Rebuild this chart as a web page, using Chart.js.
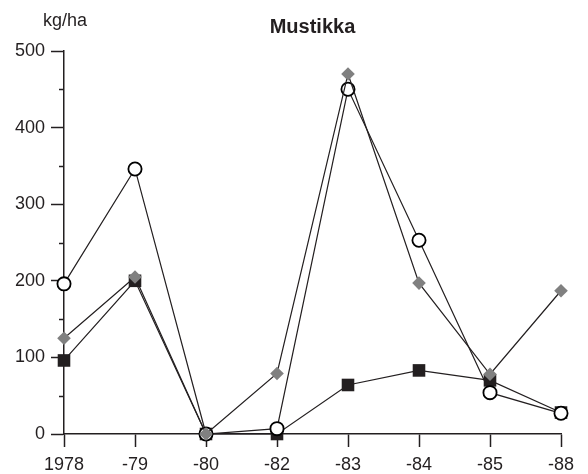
<!DOCTYPE html>
<html>
<head>
<meta charset="utf-8">
<script src="https://cdn.jsdelivr.net/npm/chart.js@4/dist/chart.umd.min.js"></script>
<style>
  html, body { margin: 0; padding: 0; background: #ffffff; }
  canvas { display: block; }
</style>
</head>
<body>
<canvas id="c" width="588" height="474"></canvas>
<script>
// Harvest years (category axis)
const years = ['1978', '-79', '-80', '-82', '-83', '-84', '-85', '-88'];

// Bilberry yields, kg/ha
const diamondSeries = [125, 205, 0, 79, 470, 197, 78, 187];
const circleSeries  = [196, 346, 0, 7, 450, 253, 54, 27];
const squareSeries  = [96, 200, 0, 0, 64, 83, 70, 28];

// Y axis ticks
const yTicks = [0, 100, 200, 300, 400, 500];
const yMinorTicks = [50, 150, 250, 350, 450];

const INK = '#231f20';
const FONT = '"Liberation Sans", Arial, sans-serif';

// Short minor ticks, chart title and unit label
const decorations = {
  id: 'decorations',
  afterDraw(chart) {
    const { ctx, chartArea, scales } = chart;
    const y = scales.y;
    ctx.save();
    ctx.strokeStyle = INK;
    ctx.lineWidth = 1.5;
    yMinorTicks.forEach(v => {
      const py = Math.round(y.getPixelForValue(v)) + 0.5;
      ctx.beginPath();
      ctx.moveTo(chartArea.left - 5, py);
      ctx.lineTo(chartArea.left, py);
      ctx.stroke();
    });
    ctx.fillStyle = INK;
    ctx.textAlign = 'center';
    ctx.textBaseline = 'alphabetic';
    ctx.font = 'bold 20px ' + FONT;
    ctx.fillText('Mustikka', (chartArea.left + chartArea.right) / 2, 33);
    ctx.font = '18px ' + FONT;
    ctx.fillText('kg/ha', chartArea.left + 1, 26);
    ctx.restore();
  }
};

new Chart(document.getElementById('c'), {
  type: 'line',
  data: {
    labels: years,
    datasets: [
      {
        data: diamondSeries,
        borderColor: INK,
        borderWidth: 1.2,
        pointStyle: 'rectRot',
        pointRadius: 6.8,
        pointBackgroundColor: '#808080',
        pointBorderWidth: 0,
        pointBorderColor: '#808080',
        tension: 0,
        clip: false
      },
      {
        data: circleSeries,
        borderColor: INK,
        borderWidth: 1.2,
        pointStyle: 'circle',
        pointRadius: 6.6,
        pointBackgroundColor: '#ffffff',
        pointBorderWidth: 1.8,
        pointBorderColor: '#000000',
        tension: 0,
        clip: false
      },
      {
        data: squareSeries,
        borderColor: INK,
        borderWidth: 1.2,
        pointStyle: 'rect',
        pointRadius: 8.9,
        pointBackgroundColor: INK,
        pointBorderWidth: 0,
        pointBorderColor: INK,
        tension: 0,
        clip: false
      }
    ]
  },
  options: {
    responsive: false,
    devicePixelRatio: 1,
    animation: false,
    events: [],
    layout: { padding: { top: 51, right: 27, left: 0, bottom: 0 } },
    plugins: {
      legend: { display: false },
      title: { display: false },
      tooltip: { enabled: false }
    },
    scales: {
      x: {
        type: 'category',
        offset: false,
        grid: {
          drawOnChartArea: false,
          drawTicks: true,
          tickLength: 13,
          tickColor: INK,
          tickWidth: 1.5
        },
        border: { display: true, color: INK, width: 1.5 },
        ticks: {
          color: INK,
          font: { family: FONT, size: 18 },
          padding: 7,
          maxRotation: 0,
          autoSkip: false
        },
        afterFit(scale) { scale.height = 40; }
      },
      y: {
        min: 0,
        max: 500,
        afterBuildTicks(scale) { scale.ticks = yTicks.map(v => ({ value: v })); },
        grid: {
          drawOnChartArea: false,
          drawTicks: true,
          tickLength: 13,
          tickColor: INK,
          tickWidth: 1.5
        },
        border: { display: true, color: INK, width: 1.5 },
        ticks: {
          color: INK,
          font: { family: FONT, size: 18 },
          padding: 6
        },
        afterFit(scale) { scale.width = 64; }
      }
    }
  },
  plugins: [decorations]
});
</script>
</body>
</html>
